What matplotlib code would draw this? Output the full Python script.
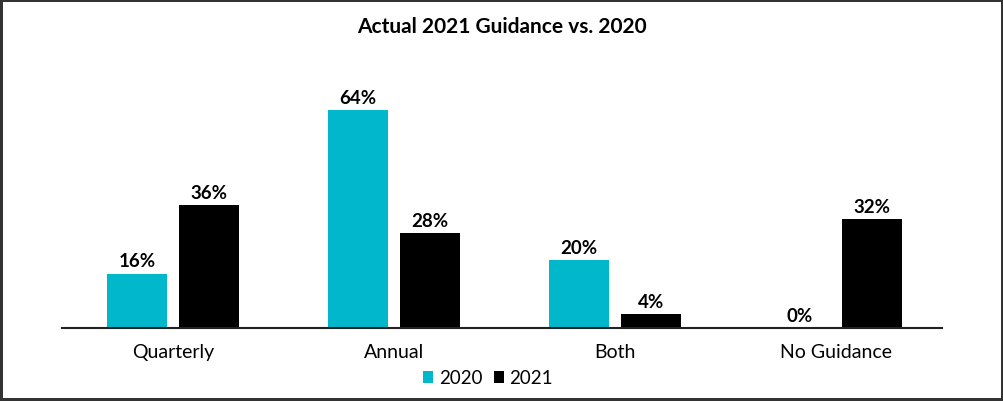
import matplotlib.pyplot as plt
import numpy as np

categories = ["Quarterly", "Annual", "Both", "No Guidance"]
vals_2020 = [16, 64, 20, 0]
vals_2021 = [36, 28, 4, 32]
series_names = ["2020", "2021"]

cyan = "#00B7CC"
black = "#000000"

plt.rcParams['font.family'] = ['Lato', 'DejaVu Sans']

fig = plt.figure(figsize=(10.04, 4.02), dpi=100)
fig.patch.set_edgecolor("#333333")
fig.patch.set_linewidth(3)

# axes placed in pixel coords: x 62-942, y 60-329 (from top)
W, H = 1004, 402
ax = fig.add_axes([62 / W, (H - 329) / H, 880 / W, 269 / H])

x = np.arange(len(categories))
w = 0.2715
off = 0.163
b1 = ax.bar(x - off, vals_2020, w, color=cyan, label=series_names[0])
b2 = ax.bar(x + off, vals_2021, w, color=black, label=series_names[1])

for bars, vals in ((b1, vals_2020), (b2, vals_2021)):
    for r, v in zip(bars, vals):
        ax.text(r.get_x() + r.get_width() / 2, v + 1.2, f"{v}%",
                ha="center", va="bottom", fontsize=13.5, fontweight="bold")

ax.set_xlim(-0.502, 3.48)
ax.set_ylim(0, 79)
ax.set_xticks(x)
ax.set_xticklabels(categories, fontsize=14)
ax.tick_params(axis="x", length=0, pad=11)
ax.set_yticks([])
for s in ["top", "right", "left"]:
    ax.spines[s].set_visible(False)
ax.spines["bottom"].set_color("#222222")
ax.spines["bottom"].set_linewidth(1.5)

fig.text(0.5, 1 - 27 / H, "Actual 2021 Guidance vs. 2020", ha="center", va="center",
         fontsize=15, fontweight="bold")

fig.legend(handles=[b1, b2], labels=series_names, loc="center",
           bbox_to_anchor=(488 / W, 1 - 379 / H), ncol=2, frameon=False,
           fontsize=13.5, handlelength=0.55, handleheight=0.55,
           handletextpad=0.3, columnspacing=0.6)

fig.savefig("out.png", dpi=100, edgecolor=fig.get_edgecolor())
